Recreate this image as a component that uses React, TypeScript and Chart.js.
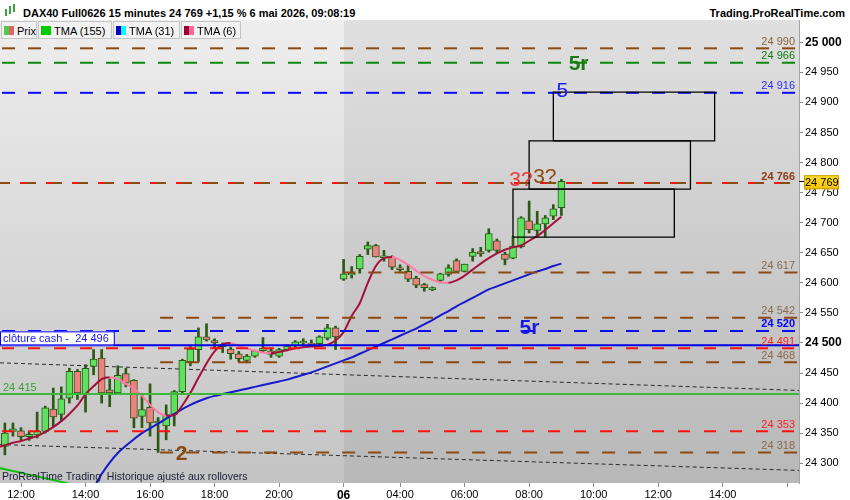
import React, { useEffect, useRef } from 'react';
import { Chart, registerables } from 'chart.js';

Chart.register(...registerables);

const FONT = '"Liberation Sans", Arial, Helvetica, sans-serif';

// 15-minute bars, bar 0 = 11:30 on day 1, bar 42 = first bar of day 2 ("06")
const candleOpen = [
  24328, 24353, 24354, 24344, 24347, 24353, 24390, 24381, 24408, 24453,
  24415, 24461, 24475, 24422, 24417, 24449, 24438, 24378, 24393, 24367,
  24362, 24381, 24419, 24469, 24489, 24510, 24504, 24497, 24490, 24482,
  24471, 24478, 24487, 24487, 24478, 24489, 24495, 24500, 24500, 24499,
  24508, 24525, 24606, 24613, 24623, 24656, 24662, 24642, 24643, 24625,
  24619, 24608, 24597, 24588, 24604, 24614, 24637, 24619, 24644, 24652,
  24654, 24670, 24648, 24641, 24660, 24703, 24687, 24698, 24711, 24725,
];
const candleHigh = [
  24367, 24367, 24359, 24352, 24385, 24395, 24425, 24427, 24458, 24456,
  24464, 24489, 24489, 24440, 24462, 24458, 24439, 24416, 24432, 24376,
  24397, 24421, 24473, 24494, 24525, 24532, 24507, 24500, 24493, 24486,
  24481, 24488, 24509, 24490, 24491, 24497, 24504, 24507, 24505, 24512,
  24531, 24528, 24639, 24627, 24647, 24668, 24664, 24654, 24645, 24630,
  24630, 24611, 24599, 24593, 24616, 24630, 24640, 24631, 24657, 24659,
  24690, 24673, 24651, 24677, 24710, 24736, 24719, 24712, 24730, 24772,
];
const candleLow = [
  24314, 24345, 24339, 24338, 24342, 24350, 24361, 24370, 24400, 24406,
  24385, 24447, 24400, 24394, 24415, 24427, 24359, 24359, 24345, 24318,
  24339, 24362, 24417, 24462, 24469, 24503, 24492, 24484, 24473, 24469,
  24467, 24476, 24485, 24476, 24476, 24487, 24493, 24497, 24494, 24497,
  24505, 24489, 24604, 24608, 24616, 24647, 24643, 24636, 24622, 24619,
  24602, 24592, 24586, 24587, 24600, 24611, 24619, 24618, 24636, 24644,
  24651, 24650, 24630, 24640, 24658, 24683, 24677, 24677, 24705, 24712,
];
const candleClose = [
  24350, 24357, 24344, 24348, 24353, 24392, 24377, 24407, 24453, 24417,
  24458, 24473, 24417, 24417, 24446, 24433, 24375, 24389, 24367, 24370,
  24381, 24419, 24471, 24490, 24510, 24505, 24500, 24494, 24482, 24474,
  24478, 24487, 24491, 24481, 24489, 24495, 24502, 24503, 24497, 24510,
  24525, 24510, 24615, 24616, 24644, 24662, 24643, 24645, 24626, 24622,
  24606, 24596, 24592, 24592, 24615, 24625, 24619, 24631, 24651, 24648,
  24682, 24654, 24639, 24661, 24708, 24688, 24698, 24708, 24723, 24769,
];

const tma6Start = -1;
const tma6 = [
  24326, 24330, 24334, 24337, 24341, 24345, 24352, 24360, 24370, 24382,
  24396, 24415, 24428, 24440, 24443, 24440, 24432, 24424, 24412, 24397,
  24385, 24379, 24380, 24396, 24417, 24442, 24466, 24486, 24498, 24500,
  24495, 24491, 24487, 24484, 24483, 24485, 24488, 24491, 24493, 24494,
  24495, 24497, 24504, 24518, 24545, 24566, 24600, 24628, 24641, 24643,
  24638, 24630, 24620, 24611, 24605, 24601, 24600, 24604, 24612, 24622,
  24632, 24641, 24649, 24655, 24659, 24662, 24670, 24678, 24688, 24699,
  24710,
];
const tma31Start = 11;
const tma31 = [
  24258, 24282, 24301, 24317, 24329, 24340, 24350, 24358, 24366, 24374,
  24382, 24390, 24397, 24403, 24408, 24412, 24415, 24418, 24421, 24424,
  24427, 24430, 24433, 24436, 24439, 24443, 24447, 24451, 24456, 24461,
  24466, 24471, 24476, 24482, 24488, 24494, 24500, 24506, 24512, 24518,
  24524, 24531, 24538, 24546, 24553, 24561, 24568, 24575, 24582, 24589,
  24594, 24599, 24604, 24609, 24614, 24619, 24623, 24628, 24632,
];
const tma155Start = -1;
const tma155 = [24293, 24290, 24287, 24284, 24281, 24278, 24275, 24272, 24269, 24266, 24263];

// horizontal levels (price, first bar)
const levelPrices = [24990, 24966, 24916, 24766, 24617, 24542, 24520, 24496, 24491, 24468, 24415, 24353, 24318];
const levelStartBars = [-0.6, -0.6, -0.6, -0.6, 41.6, 19, -0.6, -0.6, -0.6, 19, -0.6, -0.6, 19];

// boxes
const zoneStartBars = [63, 65, 68];
const zoneEndBars = [83, 85, 88];
const zoneLows = [24676, 24756, 24836];
const zoneHighs = [24756, 24836, 24917];

// dotted trend lines
const trendStartBars = [-0.6, -0.6];
const trendEndBars = [98.5, 98.5];
const trendStartPrices = [24467, 24331];
const trendEndPrices = [24421, 24288];

// text marks
const noteTexts = ['5r', '5', '3?', '3?', '5r', '2'];
const noteBars = [69.9, 68.4, 62.55, 65.5, 63.8, 21.2];
const notePrices = [24963, 24919, 24771, 24776, 24525, 24315];

const xTickBars = [2, 10, 18, 26, 34, 42, 49, 57, 65, 73, 81, 89, 97];
const xTickLabels = ['12:00', '14:00', '16:00', '18:00', '20:00', '06', '04:00', '06:00', '08:00', '10:00', '12:00', '14:00', ''];
const yTickValues = [24300, 24350, 24400, 24450, 24500, 24550, 24600, 24650, 24700, 24750, 24800, 24850, 24900, 24950, 25000];

const lastPrice = 24769;
const dayStartBar = 42.05;
const xMin = -0.604;
const xMax = 98.46;
const yMin = 24267.1;
const yMax = 25037.1;

const titleText = 'DAX40 Full0626 15 minutes 24 769 +1,15 % 6 mai 2026, 09:08:19';
const siteText = 'Trading.ProRealTime.com';
const footText = 'ProRealTime Trading  Historique ajusté aux rollovers';
const cashLabel = 'clôture cash -  24 496';

const BROWN = '#8a4a12';
const BROWN_T = '#8b6a4a';
const RED = '#ff1010';
const BLUE = '#0a0aff';
const GREEN_D = '#0c8a0c';
const WICK = '#2b5a14';
const UP = '#5fe05f';
const DOWN = '#ef8080';
const CRIMSON = '#a3103e';
const PINK = '#ff7aa6';

type Look = { color: string; dash: number[]; width: number; text: string; bold?: boolean; side: 'right' | 'left' | 'box' | 'none'; extra?: boolean };
const levelLooks: Look[] = [
  { color: BROWN, dash: [13, 13], width: 2, text: '#8b643e', side: 'right' },
  { color: GREEN_D, dash: [13, 13], width: 2, text: '#0e7e0e', side: 'right' },
  { color: BLUE, dash: [13, 13], width: 2, text: '#2a2aff', side: 'right' },
  { color: BROWN, dash: [10, 16], width: 2, text: '#8b3c14', bold: true, side: 'right', extra: true },
  { color: BROWN, dash: [13, 13], width: 2, text: BROWN_T, side: 'right' },
  { color: BROWN, dash: [13, 13], width: 2, text: BROWN_T, side: 'right' },
  { color: BLUE, dash: [13, 13], width: 2, text: '#0000ff', bold: true, side: 'right' },
  { color: '#0000e6', dash: [], width: 2, text: '#1414ff', side: 'box' },
  { color: RED, dash: [12, 14], width: 2, text: '#ff2020', side: 'right' },
  { color: BROWN, dash: [13, 13], width: 2, text: BROWN_T, side: 'right' },
  { color: '#3cb83c', dash: [], width: 2, text: '#3a9e3a', side: 'left' },
  { color: RED, dash: [12, 14], width: 2, text: '#ff2020', side: 'right' },
  { color: BROWN, dash: [13, 13], width: 2, text: BROWN_T, side: 'right' },
];
const noteLooks = [
  { color: '#1a7a12', font: `bold 21px ${FONT}` },
  { color: '#1a1aff', font: `21px ${FONT}` },
  { color: '#f03838', font: `21px ${FONT}` },
  { color: '#8b4a14', font: `21px ${FONT}` },
  { color: '#1a1ae0', font: `bold 21px ${FONT}` },
  { color: '#8b4a14', font: `bold 21px ${FONT}` },
];

const fmt = (v: number) => {
  const s = Math.round(v).toString();
  return s.slice(0, s.length - 3) + ' ' + s.slice(-3);
};

const overlay = {
  id: 'prtOverlay',
  beforeDraw(chart: any) {
    const ctx = chart.ctx;
    const { left, top, right, bottom } = chart.chartArea;
    const split = chart.scales.x.getPixelForValue(dayStartBar);
    ctx.save();
    ctx.fillStyle = '#ffffff';
    ctx.fillRect(0, 0, chart.width, chart.height);
    const g1 = ctx.createLinearGradient(0, top, 0, bottom);
    g1.addColorStop(0, '#eeeeee');
    g1.addColorStop(1, '#c4c4c4');
    ctx.fillStyle = g1;
    ctx.fillRect(left, top, split - left, bottom - top);
    const g2 = ctx.createLinearGradient(0, top, 0, bottom);
    g2.addColorStop(0, '#e0e0e0');
    g2.addColorStop(1, '#b8b8b8');
    ctx.fillStyle = g2;
    ctx.fillRect(split, top, right - split, bottom - top);
    ctx.restore();
  },
  afterDatasetsDraw(chart: any) {
    const ctx = chart.ctx;
    const xs = chart.scales.x;
    const ys = chart.scales.y;
    const { left, right, bottom } = chart.chartArea;
    ctx.save();
    ctx.beginPath();
    ctx.rect(left, chart.chartArea.top, right - left, bottom - chart.chartArea.top);
    ctx.clip();
    ctx.textBaseline = 'alphabetic';
    levelPrices.forEach((p, i) => {
      const look = levelLooks[i];
      const y = ys.getPixelForValue(p);
      if (look.side === 'right') {
        ctx.font = `${look.bold ? 'bold ' : ''}11px ${FONT}`;
        ctx.fillStyle = look.text;
        ctx.textAlign = 'right';
        ctx.fillText(fmt(p), right - 4, y - 3.5);
      } else if (look.side === 'left') {
        ctx.font = `11px ${FONT}`;
        ctx.fillStyle = look.text;
        ctx.textAlign = 'left';
        ctx.fillText(fmt(p), left + 3, y - 3.5);
      } else if (look.side === 'box') {
        ctx.font = `11px ${FONT}`;
        const w = ctx.measureText(cashLabel).width + 8;
        ctx.fillStyle = '#ffffff';
        ctx.fillRect(left, y - 14, w, 14);
        ctx.strokeStyle = '#0000ff';
        ctx.lineWidth = 1;
        ctx.strokeRect(left + 0.5, y - 13.5, w, 13);
        ctx.fillStyle = look.text;
        ctx.textAlign = 'left';
        ctx.fillText(cashLabel, left + 3, y - 3);
      }
    });
    noteTexts.forEach((t, i) => {
      ctx.font = noteLooks[i].font;
      ctx.fillStyle = noteLooks[i].color;
      ctx.textAlign = 'left';
      ctx.textBaseline = 'middle';
      ctx.fillText(t, xs.getPixelForValue(noteBars[i]), ys.getPixelForValue(notePrices[i]));
    });
    ctx.textBaseline = 'alphabetic';
    ctx.font = `10.5px ${FONT}`;
    ctx.fillStyle = '#1c1c38';
    ctx.textAlign = 'left';
    ctx.fillText(footText, left + 2, bottom - 3);
    ctx.restore();
  },
  afterDraw(chart: any) {
    const ctx = chart.ctx;
    const ys = chart.scales.y;
    const { right } = chart.chartArea;
    const y = ys.getPixelForValue(lastPrice);
    ctx.save();
    ctx.strokeStyle = '#000';
    ctx.lineWidth = 1;
    ctx.beginPath();
    ctx.moveTo(right, Math.round(y) + 0.5);
    ctx.lineTo(right + 5, Math.round(y) + 0.5);
    ctx.stroke();
    const g = ctx.createLinearGradient(0, y - 7, 0, y + 7);
    g.addColorStop(0, '#ffe033');
    g.addColorStop(1, '#f5c400');
    ctx.fillStyle = g;
    ctx.fillRect(right + 5, y - 6, 35, 14);
    ctx.strokeStyle = '#c9a000';
    ctx.strokeRect(right + 5.5, y - 5.5, 34, 13);
    ctx.fillStyle = '#000';
    ctx.font = `11px ${FONT}`;
    ctx.textAlign = 'left';
    ctx.textBaseline = 'middle';
    ctx.fillText(fmt(lastPrice), right + 6, y + 1.5);
    ctx.restore();
  },
};

function buildDatasets() {
  const bars = candleOpen.map((_, i) => i);
  const ds: any[] = [];
  ds.push({
    type: 'bar',
    data: bars.map((i) => ({ x: i, y: [candleLow[i], candleHigh[i]] })),
    backgroundColor: WICK,
    barThickness: 2,
    grouped: false,
    order: 50,
  });
  ds.push({
    type: 'bar',
    data: bars.map((i) => ({ x: i, y: [candleOpen[i], candleClose[i]] })),
    backgroundColor: bars.map((i) => (candleClose[i] >= candleOpen[i] ? UP : DOWN)),
    borderColor: WICK,
    borderWidth: 1,
    borderSkipped: false,
    barThickness: 7,
    grouped: false,
    order: 40,
  });
  trendStartBars.forEach((s, i) => {
    ds.push({
      type: 'line',
      data: [
        { x: s, y: trendStartPrices[i] },
        { x: trendEndBars[i], y: trendEndPrices[i] },
      ],
      borderColor: '#2a2a2a',
      borderWidth: 1,
      borderDash: [4, 3],
      pointRadius: 0,
      clip: 0,
      order: 60,
    });
  });
  ds.push({
    type: 'line',
    data: tma155.map((v, k) => ({ x: tma155Start + k, y: v })),
    borderColor: '#10c010',
    borderWidth: 2,
    pointRadius: 0,
    clip: 0,
    order: 30,
  });
  ds.push({
    type: 'line',
    data: tma31.map((v, k) => ({ x: tma31Start + k, y: v })),
    borderColor: '#1818cc',
    borderWidth: 2,
    pointRadius: 0,
    cubicInterpolationMode: 'monotone',
    clip: 0,
    order: 29,
  });
  ds.push({
    type: 'line',
    data: tma6.map((v, k) => ({ x: tma6Start + k, y: v })),
    borderColor: CRIMSON,
    borderWidth: 2,
    pointRadius: 0,
    cubicInterpolationMode: 'monotone',
    segment: {
      borderColor: (c: any) => (c.p1.parsed.y < c.p0.parsed.y ? PINK : CRIMSON),
    },
    clip: 0,
    order: 28,
  });
  levelPrices.forEach((p, i) => {
    const look = levelLooks[i];
    const data = [
      { x: levelStartBars[i], y: p },
      { x: 99, y: p },
    ];
    if (look.extra) {
      ds.push({
        type: 'line',
        data,
        borderColor: RED,
        borderWidth: 2,
        borderDash: [6, 20],
        borderDashOffset: 6,
        pointRadius: 0,
        clip: 0,
        order: 11,
      });
    }
    ds.push({
      type: 'line',
      data,
      borderColor: look.color,
      borderWidth: look.width,
      borderDash: look.dash,
      borderDashOffset: look.extra ? 0 : -2,
      pointRadius: 0,
      clip: 0,
      order: 10,
    });
  });
  zoneStartBars.forEach((s, i) => {
    const e = zoneEndBars[i];
    const lo = zoneLows[i];
    const hi = zoneHighs[i];
    ds.push({
      type: 'line',
      data: [
        { x: s, y: lo },
        { x: s, y: hi },
        { x: e, y: hi },
        { x: e, y: lo },
        { x: s, y: lo },
      ],
      borderColor: '#000000',
      borderWidth: 1.3,
      pointRadius: 0,
      tension: 0,
      clip: 0,
      order: 5,
    });
  });
  return ds;
}

const tabs = [
  { label: 'Prix', left: 1, width: 36, c1: '#4ccc4c', c2: '#e06464' },
  { label: 'TMA (155)', left: 38, width: 74, c1: '#00cc00', c2: '#00cc00' },
  { label: 'TMA (31)', left: 113, width: 67, c1: '#0000cc', c2: '#00ffff' },
  { label: 'TMA (6)', left: 181, width: 60, c1: '#990033', c2: '#ff6699' },
];

export default function App() {
  const ref = useRef<HTMLCanvasElement | null>(null);
  useEffect(() => {
    if (!ref.current) return;
    const chart = new Chart(ref.current, {
      type: 'bar',
      data: { datasets: buildDatasets() },
      options: {
        animation: false,
        responsive: false,
        events: [],
        layout: { padding: 0 },
        plugins: {
          legend: { display: false },
          tooltip: { enabled: false },
          title: { display: false },
        },
        scales: {
          x: {
            type: 'linear',
            min: xMin,
            max: xMax,
            offset: false,
            position: 'bottom',
            afterBuildTicks: (s: any) => {
              s.ticks = xTickBars.map((v) => ({ value: v }));
            },
            afterFit: (s: any) => {
              s.height = 17;
              s.paddingLeft = 0;
              s.paddingRight = 0;
              s.paddingTop = 0;
              s.paddingBottom = 0;
            },
            ticks: {
              autoSkip: false,
              maxRotation: 0,
              minRotation: 0,
              padding: 1,
              color: '#000',
              font: (c: any) =>
                c.index === 5 ? { family: FONT, size: 12, weight: 'bold' } : { family: FONT, size: 11 },
              callback: (_v: any, i: number) => xTickLabels[i],
            },
            grid: { drawOnChartArea: false, drawTicks: true, tickLength: 4, color: '#8c8c8c', offset: false },
            border: { display: false },
          },
          y: {
            type: 'linear',
            position: 'right',
            min: yMin,
            max: yMax,
            afterBuildTicks: (s: any) => {
              s.ticks = yTickValues.map((v) => ({ value: v }));
            },
            afterFit: (s: any) => {
              s.width = 51;
              s.paddingLeft = 0;
              s.paddingRight = 0;
              s.paddingTop = 0;
              s.paddingBottom = 0;
            },
            ticks: {
              padding: 2,
              color: '#000',
              font: (c: any) => {
                const v = c.tick ? c.tick.value : 0;
                return v === 25000 || v === 24500
                  ? { family: FONT, size: 12, weight: 'bold' }
                  : { family: FONT, size: 11 };
              },
              callback: (v: any) => fmt(Number(v)),
            },
            grid: { drawOnChartArea: false, drawTicks: true, tickLength: 4, color: '#8c8c8c' },
            border: { display: true, color: '#a4a4a4', width: 1 },
          },
        },
      } as any,
      plugins: [overlay],
    } as any);
    return () => chart.destroy();
  }, []);

  return (
    <div
      style={{
        position: 'absolute',
        left: 0,
        top: 0,
        width: 850,
        height: 500,
        background: '#fff',
        overflow: 'hidden',
        fontFamily: FONT,
      }}
    >
      <div style={{ position: 'absolute', left: 0, top: 0, width: 850, height: 20, background: '#fff' }}>
        <div style={{ position: 'absolute', left: 5, top: 9, width: 2, height: 7, background: '#3aa53a' }} />
        <div style={{ position: 'absolute', left: 9, top: 6, width: 2, height: 8, background: '#3aa53a' }} />
        <div style={{ position: 'absolute', left: 13, top: 4, width: 2, height: 8, background: '#3aa53a' }} />
        <span
          style={{
            position: 'absolute',
            left: 23,
            top: 7,
            lineHeight: '12px',
            fontSize: 11,
            fontWeight: 'bold',
            color: '#000',
            whiteSpace: 'pre',
          }}
        >
          {titleText}
        </span>
        <span
          style={{
            position: 'absolute',
            right: 5,
            top: 7,
            lineHeight: '12px',
            fontSize: 11,
            fontWeight: 'bold',
            color: '#000',
            whiteSpace: 'pre',
          }}
        >
          {siteText}
        </span>
      </div>
      <canvas ref={ref} width={850} height={480} style={{ position: 'absolute', left: 0, top: 20, width: 850, height: 480 }} />
      {tabs.map((t) => (
        <div
          key={t.label}
          style={{
            position: 'absolute',
            left: t.left,
            top: 21,
            width: t.width - 2,
            height: 16,
            background: '#f2f2f2',
            border: '1px solid #c4c4c4',
          }}
        >
          <div style={{ position: 'absolute', left: 2, top: 4, width: 5, height: 9, background: t.c1 }} />
          <div style={{ position: 'absolute', left: 7, top: 4, width: 5, height: 9, background: t.c2 }} />
          <span
            style={{
              position: 'absolute',
              left: 15,
              top: 3,
              lineHeight: '12px',
              fontSize: 11,
              color: '#000',
              whiteSpace: 'pre',
            }}
          >
            {t.label}
          </span>
        </div>
      ))}
    </div>
  );
}
